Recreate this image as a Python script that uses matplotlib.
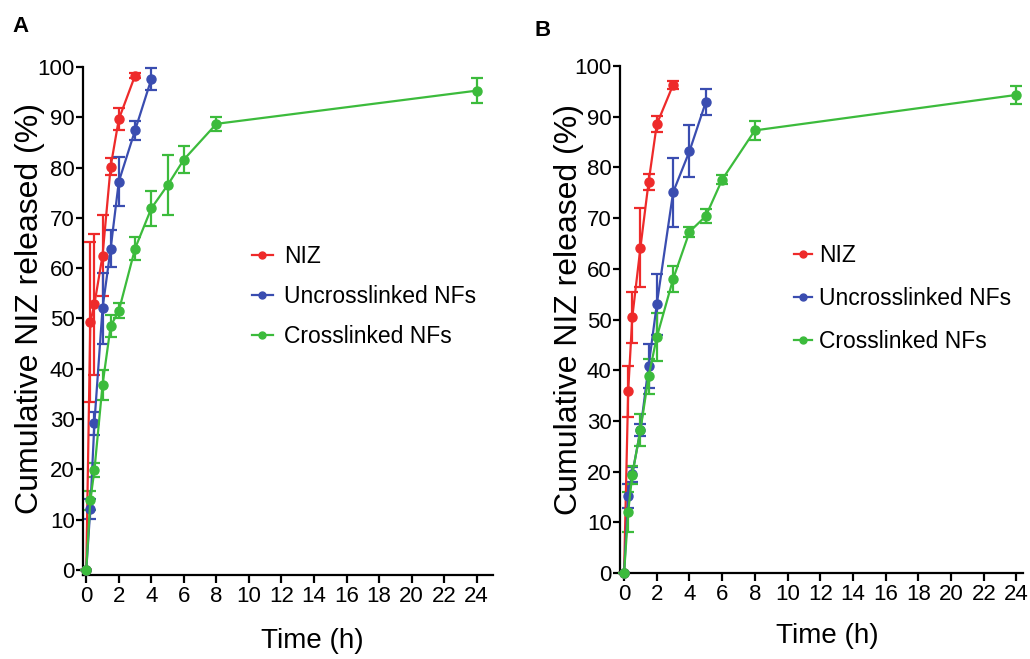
import matplotlib
matplotlib.use("Agg")
import matplotlib.pyplot as plt
from matplotlib.lines import Line2D

plt.rcParams['font.family'] = ['Liberation Sans', 'DejaVu Sans']

RED = '#ee2a2a'
BLUE = '#3a4db0'
GREEN = '#3cbb3c'

series_labels = ['NIZ', 'Uncrosslinked NFs', 'Crosslinked NFs']
x_ticks = list(range(0, 25, 2))
y_ticks = list(range(0, 101, 10))

# Panel A
a_niz_t = [0, 0.25, 0.5, 1, 1.5, 2, 3]
a_niz_y = [0, 49.3, 52.8, 62.5, 80.2, 89.6, 98.3]
a_niz_e = [0, 16, 14, 8, 1.7, 2.2, 0.5]

a_unc_t = [0, 0.25, 0.5, 1, 1.5, 2, 3, 4]
a_unc_y = [0, 12.2, 29.2, 52.0, 63.9, 77.2, 87.4, 97.6]
a_unc_e = [0, 2.0, 2.3, 7.0, 3.7, 4.9, 1.9, 2.2]

a_cro_t = [0, 0.25, 0.5, 1, 1.5, 2, 3, 4, 5, 6, 8, 24]
a_cro_y = [0, 13.9, 19.8, 36.8, 48.5, 51.5, 63.9, 71.9, 76.5, 81.6, 88.7, 95.3]
a_cro_e = [0, 1.9, 1.4, 3.0, 2.1, 1.5, 2.3, 3.5, 6.0, 2.7, 1.4, 2.5]

# Panel B
b_niz_t = [0, 0.25, 0.5, 1, 1.5, 2, 3]
b_niz_y = [0, 35.8, 50.4, 64.2, 77.1, 88.5, 96.3]
b_niz_e = [0, 5.0, 5.0, 7.7, 1.5, 1.6, 0.8]

b_unc_t = [0, 0.25, 0.5, 1, 1.5, 2, 3, 4, 5]
b_unc_y = [0, 15.2, 19.5, 28.2, 40.8, 53.0, 75.1, 83.2, 92.9]
b_unc_e = [0, 2.3, 1.5, 1.2, 4.4, 6.0, 6.8, 5.1, 2.6]

b_cro_t = [0, 0.25, 0.5, 1, 1.5, 2, 3, 4, 5, 6, 8, 24]
b_cro_y = [0, 12.0, 19.4, 28.2, 38.8, 46.5, 58.0, 67.3, 70.4, 77.6, 87.3, 94.3]
b_cro_e = [0, 4.0, 1.8, 3.2, 3.5, 4.7, 2.6, 1.0, 1.4, 0.9, 1.9, 1.7]

fig = plt.figure(figsize=(10.30, 6.59), dpi=100)
axA = fig.add_axes([83/1030, 1-575/659, 410/1030, 508/659])
axB = fig.add_axes([620/1030, 1-573/659, 403/1030, 507/659])


def draw(ax, data, ylim, xlim, xlab_pos, ylab_pos):
    for (t, y, e), c in zip(data, [RED, BLUE, GREEN]):
        ax.errorbar(t, y, yerr=e, color=c, ecolor=c, lw=1.6, elinewidth=1.6,
                    capsize=4.5, capthick=1.6, marker='o', markersize=6.5,
                    zorder=3, clip_on=False)
    ax.set_xlim(*xlim)
    ax.set_ylim(*ylim)
    ax.set_xticks(x_ticks)
    ax.set_yticks(y_ticks)
    for s in ['top', 'right']:
        ax.spines[s].set_visible(False)
    for s in ['left', 'bottom']:
        ax.spines[s].set_linewidth(1.6)
    ax.tick_params(direction='out', length=6, width=1.6, labelsize=16, pad=2)
    ax.tick_params(axis='y', length=5, pad=1)
    ax.set_xlabel('Time (h)', fontsize=20)
    ax.set_ylabel('Cumulative NIZ released (%)', fontsize=23)
    ax.xaxis.set_label_coords(*xlab_pos)
    ax.yaxis.set_label_coords(*ylab_pos)


draw(axA, [(a_niz_t, a_niz_y, a_niz_e), (a_unc_t, a_unc_y, a_unc_e),
           (a_cro_t, a_cro_y, a_cro_e)], (-1, 100), (-0.2, 25),
     (0.56, -0.104), (-0.093, 0.525))
draw(axB, [(b_niz_t, b_niz_y, b_niz_e), (b_unc_t, b_unc_y, b_unc_e),
           (b_cro_t, b_cro_y, b_cro_e)], (0, 100), (-0.25, 24.4),
     (0.514, -0.099), (-0.089, 0.52))

handles = [Line2D([], [], color=c, lw=1.6, marker='o', markersize=5)
           for c in [RED, BLUE, GREEN]]

fig.legend(handles, series_labels, loc='upper left',
           bbox_to_anchor=(252/1030, 1-245/659), frameon=False, fontsize=16.5,
           handlelength=0.9, handletextpad=0.5, labelspacing=0.75,
           borderpad=0, borderaxespad=0)
fig.legend(handles, series_labels, loc='upper left',
           bbox_to_anchor=(794/1030, 1-244/659), frameon=False, fontsize=16.5,
           handlelength=0.8, handletextpad=0.3, labelspacing=0.88,
           borderpad=0, borderaxespad=0)

fig.text(12/1030, 1-26/659, 'A', fontsize=16, fontweight='bold', va='center')
fig.text(534/1030, 1-31/659, 'B', fontsize=16, fontweight='bold', va='center')

fig.savefig('out.png', dpi=100)
